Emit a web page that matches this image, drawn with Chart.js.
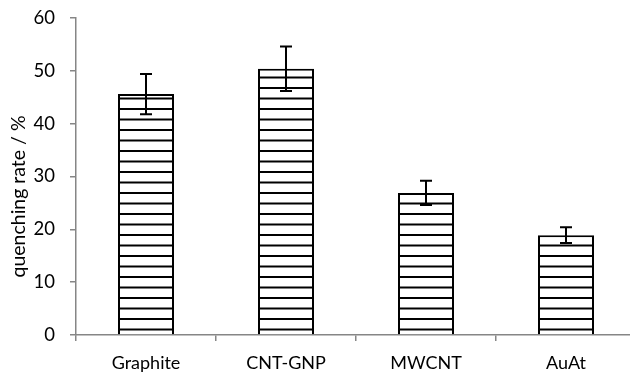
<!DOCTYPE html>
<html>
<head>
<meta charset="utf-8">
<script src="https://cdn.jsdelivr.net/npm/chart.js@4.4.1/dist/chart.umd.min.js"></script>
<style>
  html, body { margin: 0; padding: 0; background: #fff; overflow: hidden; }
  #quenchChart { display: block; }
</style>
</head>
<body>
<canvas id="quenchChart" width="636" height="374"></canvas>
<script>
const materials = ['Graphite', 'CNT-GNP', 'MWCNT', 'AuAt'];
const quenchingRate = [45.6, 50.4, 26.9, 18.9];
const quenchingError = [3.8, 4.2, 2.3, 1.5];
const yTicks = [0, 10, 20, 30, 40, 50, 60];
const yTitle = 'quenching rate / %';

const axisGray = '#868686';
const fontFamily = 'Lato, "Open Sans", sans-serif';

// horizontal line fill for the bars
function makeStripes() {
    const c = document.createElement('canvas');
    c.width = 8;
    c.height = 21;
    const g = c.getContext('2d');
    g.fillStyle = '#fff';
    g.fillRect(0, 0, 8, 21);
    g.fillStyle = '#000';
    g.fillRect(0, 3, 8, 2);
    g.fillRect(0, 13.5, 8, 2);
    return g.createPattern(c, 'repeat');
}

// whiskers with caps, drawn on top of the bars
const errorBars = {
    id: 'errorBars',
    afterDatasetsDraw(chart) {
        const ctx = chart.ctx;
        const y = chart.scales.y;
        const meta = chart.getDatasetMeta(0);
        ctx.save();
        ctx.strokeStyle = '#000';
        ctx.lineWidth = 2;
        meta.data.forEach((bar, i) => {
            const v = quenchingRate[i];
            const e = quenchingError[i];
            const top = y.getPixelForValue(v + e);
            const bot = y.getPixelForValue(v - e);
            const x = bar.x;
            ctx.beginPath();
            ctx.moveTo(x, top);
            ctx.lineTo(x, bot);
            ctx.moveTo(x - 6, top);
            ctx.lineTo(x + 6, top);
            ctx.moveTo(x - 6, bot);
            ctx.lineTo(x + 6, bot);
            ctx.stroke();
        });
        ctx.restore();
    }
};

// rotated y axis title, sitting a bit below the axis middle
const sideTitle = {
    id: 'sideTitle',
    afterDraw(chart) {
        const ctx = chart.ctx;
        const area = chart.chartArea;
        ctx.save();
        ctx.translate(19, (area.top + area.bottom) / 2 + 20);
        ctx.rotate(-Math.PI / 2);
        ctx.font = '19.5px ' + fontFamily;
        ctx.fillStyle = '#000';
        ctx.textAlign = 'center';
        ctx.textBaseline = 'middle';
        ctx.fillText(yTitle, 0, 0);
        ctx.restore();
    }
};

const ctx = document.getElementById('quenchChart').getContext('2d');
const quenchChart = new Chart(ctx, {
    type: 'bar',
    data: {
        labels: materials,
        datasets: [{
            data: quenchingRate,
            backgroundColor: makeStripes(),
            borderColor: '#000',
            borderWidth: 2,
            categoryPercentage: 1,
            barPercentage: 0.4
        }]
    },
    options: {
        responsive: false,
        animation: false,
        layout: { padding: 0 },
        plugins: {
            legend: { display: false },
            tooltip: { enabled: false }
        },
        scales: {
            x: {
                grid: {
                    offset: true,
                    drawOnChartArea: false,
                    drawTicks: true,
                    tickLength: 6,
                    color: axisGray,
                    lineWidth: 1.5
                },
                border: { color: axisGray, width: 1.5 },
                ticks: {
                    color: '#000',
                    padding: 11,
                    font: { family: fontFamily, size: 18 }
                },
                afterFit(scale) {
                    scale.height = 39;
                    scale.paddingLeft = 0;
                    scale.paddingRight = 0;
                }
            },
            y: {
                min: 0,
                max: 60,
                afterBuildTicks(scale) {
                    scale.ticks = yTicks.map(v => ({ value: v }));
                },
                grid: {
                    drawOnChartArea: false,
                    drawTicks: true,
                    tickLength: 6,
                    color: axisGray,
                    lineWidth: 1.5
                },
                border: { color: axisGray, width: 1.5 },
                ticks: {
                    color: '#000',
                    padding: 15,
                    font: { family: fontFamily, size: 18.5 }
                },
                afterFit(scale) {
                    scale.width = 76;
                    scale.paddingTop = 18;
                    scale.paddingBottom = 0;
                }
            }
        }
    },
    plugins: [errorBars, sideTitle]
});
</script>
</body>
</html>
